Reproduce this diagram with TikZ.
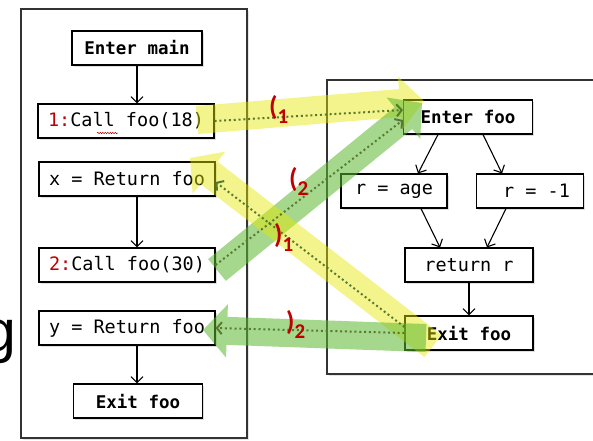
\documentclass[tikz,border=0pt]{standalone}
\usepackage{fontspec}
\setmonofont{DejaVu Sans Mono}
\newfontfamily\lblfont{Carlito}
\newfontfamily\slidefont{Liberation Sans}
\usetikzlibrary{arrows.meta,shadows,decorations.pathmorphing}
\definecolor{numred}{HTML}{C00000}
\definecolor{bandyel}{HTML}{E8E800}
\definecolor{bandgrn}{HTML}{5CB82E}
\definecolor{tracegrn}{HTML}{587A30}

\begin{document}
\begin{tikzpicture}[x=1pt,y=-1pt,
  stmt/.style={draw,line width=1.1pt,fill=white,inner sep=0pt,minimum height=34pt,
    font=\ttfamily\fontsize{18.5}{20}\selectfont,
    drop shadow={opacity=0.25,shadow xshift=1.5pt,shadow yshift=-1.5pt}},
  key/.style={stmt,font=\ttfamily\bfseries\fontsize{17.5}{20}\selectfont},
  panel/.style={draw=black!80,line width=1.2pt,fill=white,
    drop shadow={opacity=0.2,shadow xshift=2pt,shadow yshift=-2pt}},
  flow/.style={-{Straight Barb[length=6pt,width=12pt]},line width=1.1pt},
  band/.style={line width=28pt,-{Triangle[length=24pt,width=52pt]}},
  trace/.style={draw=tracegrn,line width=2pt,dash pattern=on 2pt off 2.8pt,
    -{Straight Barb[length=5pt,width=12pt]}},
  paren/.style={anchor=base west,inner sep=0pt,text=numred,
    font=\lblfont\bfseries\fontsize{27}{28}\selectfont}
  ]
  \newcommand{\sub}[1]{\raisebox{-8pt}{\fontsize{21}{22}\selectfont #1}}
  \useasboundingbox (0,0) rectangle (593,440);
  \fill[white] (0,0) rectangle (593,440);

  \node[font=\slidefont\fontsize{59}{60}\selectfont,anchor=base east,inner sep=0pt] (g) at (17,351) {g};

  \draw[panel] (21,9) rectangle (247,438);
  \draw[panel] (327,80) rectangle (610,374);

  \node[key,minimum width=130pt] (main) at (137,48) {Enter main};
  \node[stmt,minimum width=176pt] (call1) at (126,121) {\textcolor{numred}{1:}Call foo(18)};
  \node[stmt,minimum width=176pt] (ret1) at (127,179) {x = Return foo};
  \node[stmt,minimum width=176pt] (call2) at (127,265) {\textcolor{numred}{2:}Call foo(30)};
  \node[stmt,minimum width=176pt] (ret2) at (127,328) {y = Return foo};
  \node[key,minimum width=129pt] (exitm) at (138,401) {Exit foo};

  \node[key,minimum width=129pt] (foo) at (468,117) {Enter foo};
  \node[stmt,minimum width=106pt] (age) at (394,191) {r = age};
  \node[stmt,minimum width=107pt] (neg) at (530,191) {\hspace*{13pt}r = -1};
  \node[stmt,minimum width=128pt] (retr) at (469,265) {return r};
  \node[key,minimum width=128pt] (exitf) at (469,333) {Exit foo};

  \draw[numred,line width=0.5pt,decorate,
    decoration={snake,amplitude=0.7pt,segment length=2.5pt}]
    ([xshift=-29pt,yshift=-12pt]call1.center) -- ([xshift=-8pt,yshift=-12pt]call1.center);

  \draw[flow] (main.south) -- (main.south |- call1.north);
  \draw[flow] (main.south |- ret1.south) -- (main.south |- call2.north);
  \draw[flow] (main.south |- ret2.south) -- (main.south |- exitm.north);

  \draw[flow] ([xshift=-30pt]foo.south) -- ([xshift=24pt]age.north);
  \draw[flow] ([xshift=15pt]foo.south) -- ([xshift=-28pt]neg.north);
  \draw[flow] ([xshift=27pt]age.south) -- ([xshift=-29pt]retr.north);
  \draw[flow] ([xshift=-24pt]neg.south) -- ([xshift=18pt]retr.north);
  \draw[flow] (retr) -- (exitf);

  \coordinate (y1s) at (197,120);
  \coordinate (y1e) at (424,101);
  \coordinate (g1s) at (217,270);
  \coordinate (g1e) at (422,103);
  \coordinate (y2s) at (433,346);
  \coordinate (y2e) at (190,158);
  \coordinate (g2s) at (426,338);
  \coordinate (g2e) at (203,330);

  \begin{scope}[transparency group,opacity=0.45]
    \draw[band,color=bandyel] (y1s) -- (y1e);
  \end{scope}
  \begin{scope}[transparency group,opacity=0.55]
    \draw[band,color=bandgrn] (g1s) -- (g1e);
  \end{scope}
  \begin{scope}[transparency group,opacity=0.45]
    \draw[band,color=bandyel] (y2s) -- (y2e);
  \end{scope}
  \begin{scope}[transparency group,opacity=0.55]
    \draw[band,color=bandgrn] (g2s) -- (g2e);
  \end{scope}

  \draw[trace] (call1.east) -- ([yshift=7pt]foo.west);
  \draw[trace] (call2.east) -- ([yshift=-3pt]foo.west);
  \draw[trace] ([yshift=6pt]exitf.west) -- ([yshift=-3pt]ret1.east);
  \draw[trace] (exitf.west) -- (ret2.east);

  \node[paren] (open1) at (269,115.5) {(\sub{1}};
  \node[paren] (open2) at (289,187.5) {(\sub{2}};
  \node[paren] (close1) at (274,243.5) {)\sub{1}};
  \node[paren] (close2) at (286,330.5) {)\sub{2}};
\end{tikzpicture}
\end{document}
